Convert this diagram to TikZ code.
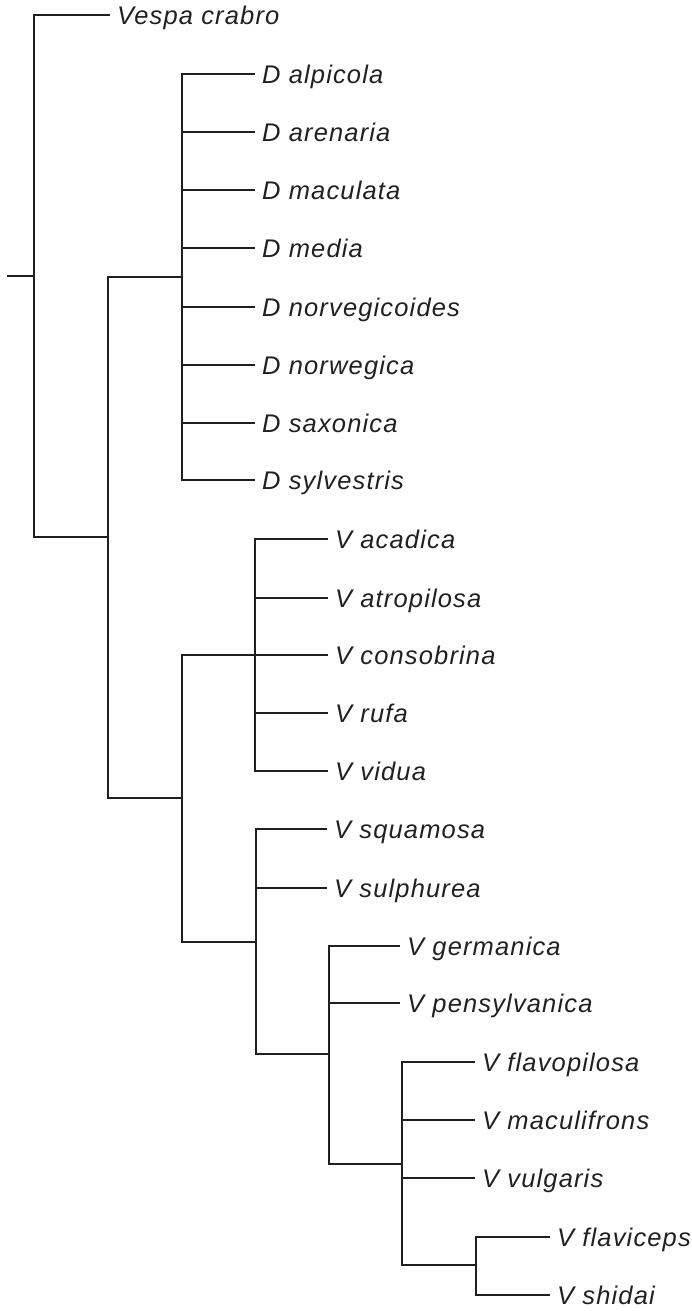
\documentclass[tikz,border=0pt]{standalone}
\usepackage{fontspec}
\setmainfont{Liberation Sans}
\newfontfamily\labfont[LetterSpace=4.5]{Liberation Sans}
\definecolor{ink}{HTML}{231F20}
\tikzset{
  br/.style={draw=ink, line width=2pt, line join=miter},
  lab/.style={anchor=west, inner xsep=7pt, inner ysep=0pt, text height=19pt, text depth=0pt,
    font=\labfont\fontsize{25.5}{30}\selectfont\itshape, text=ink},
}
\begin{document}
\begin{tikzpicture}[x=1pt,y=-1pt]
\useasboundingbox (0,0) rectangle (691,1311);
% internal nodes
\coordinate (stub) at (7,276);
\coordinate (r) at (34,276);
\coordinate (n1) at (108,537);
\coordinate (nD) at (182,277);
\coordinate (nV) at (182,798);
\coordinate (nR) at (255,655);
\coordinate (nS) at (256,942);
\coordinate (nG) at (329,1054);
\coordinate (nF) at (402,1164);
\coordinate (nC) at (476,1265);
% leaves
\node[lab] (crabro) at (110,15) {Vespa crabro};
\node[lab] (alp) at (255,74) {D alpicola};
\node[lab] (are) at (255,132) {D arenaria};
\node[lab] (mac) at (255,190) {D maculata};
\node[lab] (med) at (255,248) {D media};
\node[lab] (nvc) at (255,307) {D norvegicoides};
\node[lab] (nrw) at (255,365) {D norwegica};
\node[lab] (sax) at (255,423) {D saxonica};
\node[lab] (syl) at (255,480) {D sylvestris};
\node[lab] (aca) at (328,539) {V acadica};
\node[lab] (atr) at (328,598) {V atropilosa};
\node[lab] (con) at (328,655) {V consobrina};
\node[lab] (ruf) at (328,713) {V rufa};
\node[lab] (vid) at (328,771) {V vidua};
\node[lab] (squ) at (327,829) {V squamosa};
\node[lab] (sul) at (327,888) {V sulphurea};
\node[lab] (ger) at (400,946) {V germanica};
\node[lab] (pen) at (400,1003) {V pensylvanica};
\node[lab] (fpi) at (475,1062) {V flavopilosa};
\node[lab] (mcf) at (475,1120) {V maculifrons};
\node[lab] (vul) at (475,1178) {V vulgaris};
\node[lab] (fcp) at (550,1237) {V flaviceps};
\node[lab] (shi) at (550,1295) {V shidai};
% branches
\draw[br] (stub) -- (r);
\draw[br] (r) |- (crabro.west);
\draw[br] (r) |- (n1);
\draw[br] (n1) |- (nD);
\draw[br] (n1) |- (nV);
\foreach \l in {alp,are,mac,med,nvc,nrw,sax,syl} \draw[br] (nD) |- (\l.west);
\draw[br] (nV) |- (nR);
\draw[br] (nV) |- (nS);
\foreach \l in {aca,atr,con,ruf,vid} \draw[br] (nR) |- (\l.west);
\draw[br] (nS) |- (squ.west);
\draw[br] (nS) |- (sul.west);
\draw[br] (nS) |- (nG);
\draw[br] (nG) |- (ger.west);
\draw[br] (nG) |- (pen.west);
\draw[br] (nG) |- (nF);
\foreach \l in {fpi,mcf,vul} \draw[br] (nF) |- (\l.west);
\draw[br] (nF) |- (nC);
\draw[br] (nC) |- (fcp.west);
\draw[br] (nC) |- (shi.west);
\end{tikzpicture}
\end{document}
